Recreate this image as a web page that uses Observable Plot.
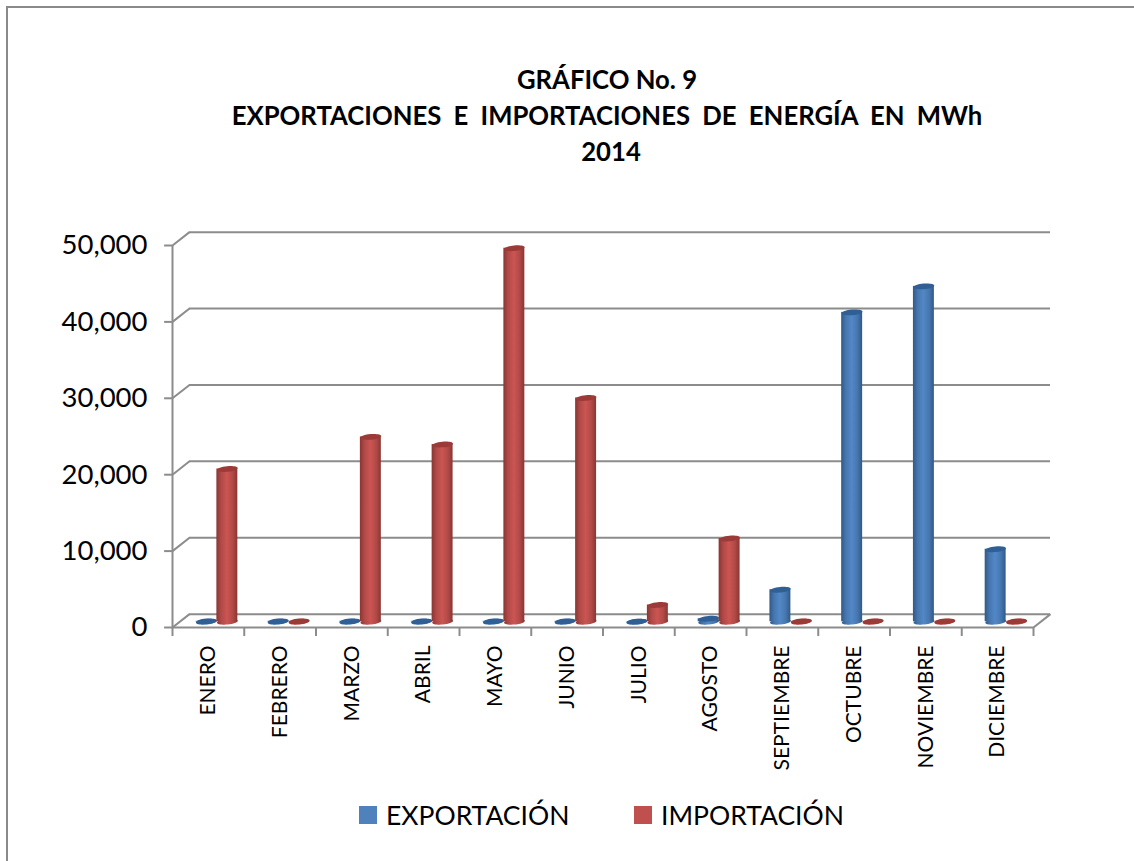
<!DOCTYPE html>
<html>
<head>
<meta charset="utf-8">
<script src="https://cdn.jsdelivr.net/npm/d3@7"></script>
<script src="https://cdn.jsdelivr.net/npm/@observablehq/plot@0.6"></script>
<style>
  html, body { margin: 0; padding: 0; background: #fff; }
  #page { position: relative; width: 1134px; height: 861px; overflow: hidden; font-family: Lato, "Open Sans", sans-serif; color: #000; }
  #page .frame-top { position: absolute; left: 6px; top: 6px; right: 0; height: 2px; background: #8a8a8a; }
  #page .frame-left { position: absolute; left: 6px; top: 6px; bottom: 0; width: 2px; background: #8a8a8a; }
  #chart { position: absolute; left: 0; top: 0; }
  .title { position: absolute; left: 0; width: 1214px; text-align: center; font-weight: 700; font-size: 25.7px; line-height: 30px; white-space: nowrap; }
  .swatch { position: absolute; top: 806px; width: 18px; height: 18px; }
  .legend { position: absolute; top: 799px; font-size: 26.5px; line-height: 32px; white-space: nowrap; }
</style>
</head>
<body>
<div id="page">
  <div class="frame-top"></div>
  <div class="frame-left"></div>
  <div id="chart"></div>
  <div class="title" style="top:64px">GRÁFICO No. 9</div>
  <div class="title" style="top:100px;word-spacing:6px">EXPORTACIONES E IMPORTACIONES DE ENERGÍA EN MWh</div>
  <div class="title" style="top:136px;left:4px">2014</div>
  <div class="swatch" style="left:359px;background:#4f81bd"></div>
  <div class="legend" style="left:386px">EXPORTACIÓN</div>
  <div class="swatch" style="left:634px;background:#c0504d"></div>
  <div class="legend" style="left:661px">IMPORTACIÓN</div>
</div>
<script>
const months = ["ENERO","FEBRERO","MARZO","ABRIL","MAYO","JUNIO","JULIO","AGOSTO","SEPTIEMBRE","OCTUBRE","NOVIEMBRE","DICIEMBRE"];
const exportacion = [60, 60, 60, 60, 60, 60, 30, 400, 4200, 40500, 43900, 9500];
const importacion = [20000, 60, 24200, 23200, 48900, 29300, 2200, 10900, 60, 60, 60, 60];
const yTicks = [0, 10000, 20000, 30000, 40000, 50000];

const LINE = "#8c8c8c";
const depthX = 0.237;   // floor depth, in category units
const depthY = 1750;    // floor depth, in MWh
const midX = depthX / 2, midY = depthY / 2 - 130;
const half = 0.146;     // half a cylinder's width, in category units

const rows = [
  ...months.map((m, i) => ({i, month: m, serie: "EXPORTACIÓN", value: exportacion[i], cx: i + 0.5 + midX - half})),
  ...months.map((m, i) => ({i, month: m, serie: "IMPORTACIÓN", value: importacion[i], cx: i + 0.5 + midX + half}))
];
const expo = rows.filter(d => d.serie === "EXPORTACIÓN");
const impo = rows.filter(d => d.serie === "IMPORTACIÓN");

// Tilted flat ellipse used as the cap and foot of each cylinder
const ellipse = {
  draw(ctx, size) {
    const rx = Math.sqrt(size / Math.PI), ry = rx * 0.27, k = 0.5523, t = -0.09;
    const p = (x, y) => [x * Math.cos(t) - y * Math.sin(t), x * Math.sin(t) + y * Math.cos(t)];
    const seg = (a, b, c) => ctx.bezierCurveTo(...p(...a), ...p(...b), ...p(...c));
    ctx.moveTo(...p(rx, 0));
    seg([rx, k * ry], [k * rx, ry], [0, ry]);
    seg([-k * rx, ry], [-rx, k * ry], [-rx, 0]);
    seg([-rx, -k * ry], [-k * rx, -ry], [0, -ry]);
    seg([k * rx, -ry], [rx, -k * ry], [rx, 0]);
    ctx.closePath();
  }
};

const gradient = (id, stops) => () => {
  const defs = d3.create("svg:defs");
  const g = defs.append("linearGradient").attr("id", id).attr("x1", 0).attr("x2", 1).attr("y1", 0).attr("y2", 0);
  stops.forEach(([o, c]) => g.append("stop").attr("offset", o).attr("stop-color", c));
  return defs.node();
};

const cylinders = (data, fillId, cap) => [
  Plot.dot(data, {x: "cx", y: midY, r: 10.4, symbol: ellipse, fill: `url(#${fillId})`, stroke: "none"}),
  Plot.rect(data, {x1: d => d.cx - half, x2: d => d.cx + half, y1: midY, y2: d => d.value + midY, fill: `url(#${fillId})`}),
  Plot.dot(data, {x: "cx", y: d => d.value + midY, r: 10.4, symbol: ellipse, fill: cap, stroke: "none"})
];

const chart = Plot.plot({
  width: 1134,
  height: 800,
  marginLeft: 172,
  marginRight: 101,
  marginTop: 245,
  marginBottom: 173,
  style: {background: "transparent", overflow: "visible"},
  x: {domain: [0, 12], axis: null, label: null},
  y: {domain: [0, 50000], axis: null, label: null},
  marks: [
    gradient("gradExp", [[0, "#30598a"], [0.22, "#4676ad"], [0.5, "#5288c8"], [0.78, "#4676ad"], [1, "#30598a"]]),
    gradient("gradImp", [[0, "#8a3533"], [0.22, "#b04a47"], [0.5, "#cc5552"], [0.78, "#b04a47"], [1, "#8a3533"]]),
    // back wall gridlines
    Plot.ruleY(yTicks, {y: d => d + depthY, x1: depthX, x2: 12 + depthX, stroke: LINE, strokeWidth: 2}),
    // left-hand diagonals
    Plot.link(yTicks, {x1: 0, x2: depthX, y1: d => d, y2: d => d + depthY, stroke: LINE, strokeWidth: 2}),
    // right floor diagonal
    Plot.link([0], {x1: 12, x2: 12 + depthX, y1: 0, y2: depthY, stroke: LINE, strokeWidth: 2}),
    // front axes
    Plot.ruleX([0], {y1: 0, y2: 50000, stroke: LINE, strokeWidth: 2}),
    Plot.ruleY([0], {x1: 0, x2: 12, stroke: LINE, strokeWidth: 2}),
    // tick marks
    Plot.ruleY(yTicks, {x1: -0.11, x2: 0, stroke: LINE, strokeWidth: 2}),
    Plot.ruleX(d3.range(13), {y1: -1180, y2: 0, stroke: LINE, strokeWidth: 2}),
    // cylinders
    ...cylinders(expo, "gradExp", "#2f5f94"),
    ...cylinders(impo, "gradImp", "#9c3a38"),
    // axis labels
    Plot.axisY({ticks: yTicks, label: null, tickSize: 0, tickPadding: 25, tickFormat: d3.format(","), fontSize: 27.5, fill: "#000", fontFamily: "Lato"}),
    Plot.axisX({ticks: months.map((m, i) => i + 0.5), label: null, tickFormat: d => months[d - 0.5], tickSize: 0, tickPadding: 18, tickRotate: -90, fontSize: 21, fill: "#000", fontFamily: "Lato"})
  ]
});
document.getElementById("chart").appendChild(chart);
</script>
</body>
</html>
